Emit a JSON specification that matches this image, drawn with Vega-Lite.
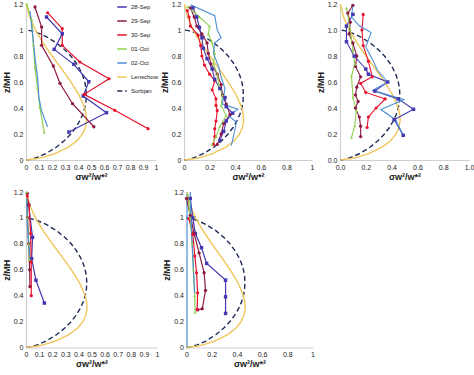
{
"$schema": "https://vega.github.io/schema/vega-lite/v6.json",
"padding": {"left": 2, "top": 0, "right": 0, "bottom": 0},
"background": "white",
"config": {
  "view": {"stroke": null},
  "font": "Liberation Sans",
  "axis": {"grid": false, "ticks": false, "labelOverlap": false, "labelFlush": false, "domainColor": "#cfcfcf", "domainWidth": 1.2, "labelFontSize": 7, "labelColor": "#222", "titleFontSize": 9, "titleFontWeight": "bold", "titleColor": "#222", "labelPadding": 3, "titlePadding": 2}
},
"datasets": {
  "curves": [
    {"s":"Sorbjan","x":0,"z":0},{"s":"Sorbjan","x":0.034,"z":0.005},{"s":"Sorbjan","x":0.085,"z":0.02},{"s":"Sorbjan","x":0.154,"z":0.05},{"s":"Sorbjan","x":0.235,"z":0.1},{"s":"Sorbjan","x":0.296,"z":0.15},{"s":"Sorbjan","x":0.345,"z":0.2},{"s":"Sorbjan","x":0.383,"z":0.25},{"s":"Sorbjan","x":0.413,"z":0.3},{"s":"Sorbjan","x":0.436,"z":0.35},{"s":"Sorbjan","x":0.452,"z":0.4},{"s":"Sorbjan","x":0.461,"z":0.45},{"s":"Sorbjan","x":0.464,"z":0.5},{"s":"Sorbjan","x":0.461,"z":0.55},{"s":"Sorbjan","x":0.452,"z":0.6},{"s":"Sorbjan","x":0.436,"z":0.65},{"s":"Sorbjan","x":0.413,"z":0.7},{"s":"Sorbjan","x":0.383,"z":0.75},{"s":"Sorbjan","x":0.345,"z":0.8},{"s":"Sorbjan","x":0.296,"z":0.85},{"s":"Sorbjan","x":0.235,"z":0.9},{"s":"Sorbjan","x":0.154,"z":0.95},{"s":"Sorbjan","x":0.085,"z":0.98},{"s":"Sorbjan","x":0.034,"z":0.995},{"s":"Sorbjan","x":0,"z":1.0},
    {"s":"Lenschow","x":0,"z":0},{"s":"Lenschow","x":0.082,"z":0.01},{"s":"Lenschow","x":0.129,"z":0.02},{"s":"Lenschow","x":0.225,"z":0.05},{"s":"Lenschow","x":0.328,"z":0.1},{"s":"Lenschow","x":0.394,"z":0.15},{"s":"Lenschow","x":0.434,"z":0.2},{"s":"Lenschow","x":0.457,"z":0.25},{"s":"Lenschow","x":0.466,"z":0.3},{"s":"Lenschow","x":0.463,"z":0.35},{"s":"Lenschow","x":0.452,"z":0.4},{"s":"Lenschow","x":0.408,"z":0.5},{"s":"Lenschow","x":0.346,"z":0.6},{"s":"Lenschow","x":0.275,"z":0.7},{"s":"Lenschow","x":0.201,"z":0.8},{"s":"Lenschow","x":0.132,"z":0.9},{"s":"Lenschow","x":0.072,"z":1.0},{"s":"Lenschow","x":0.028,"z":1.1},{"s":"Lenschow","x":0.003,"z":1.2}
  ],
  "obs": [
    {"p":"a","s":"28-Sep","x":0.158,"z":1.1},{"p":"a","s":"28-Sep","x":0.279,"z":0.971},{"p":"a","s":"28-Sep","x":0.217,"z":0.851},{"p":"a","s":"28-Sep","x":0.368,"z":0.736},{"p":"a","s":"28-Sep","x":0.483,"z":0.602},{"p":"a","s":"28-Sep","x":0.44,"z":0.492},{"p":"a","s":"28-Sep","x":0.619,"z":0.364},{"p":"a","s":"28-Sep","x":0.33,"z":0.215},
    {"p":"a","s":"29-Sep","x":0.069,"z":1.177},{"p":"a","s":"29-Sep","x":0.12,"z":1.023},{"p":"a","s":"29-Sep","x":0.12,"z":0.882},{"p":"a","s":"29-Sep","x":0.21,"z":0.723},{"p":"a","s":"29-Sep","x":0.261,"z":0.59},{"p":"a","s":"29-Sep","x":0.358,"z":0.433},{"p":"a","s":"29-Sep","x":0.522,"z":0.256},
    {"p":"a","s":"30-Sep","x":0.166,"z":1.133},{"p":"a","s":"30-Sep","x":0.279,"z":1.01},{"p":"a","s":"30-Sep","x":0.279,"z":0.882},{"p":"a","s":"30-Sep","x":0.414,"z":0.754},{"p":"a","s":"30-Sep","x":0.639,"z":0.625},{"p":"a","s":"30-Sep","x":0.447,"z":0.505},{"p":"a","s":"30-Sep","x":0.683,"z":0.382},{"p":"a","s":"30-Sep","x":0.939,"z":0.241},
    {"p":"a","s":"01-Oct","x":0.005,"z":1.2},{"p":"a","s":"01-Oct","x":0.043,"z":1.08},{"p":"a","s":"01-Oct","x":0.056,"z":0.888},{"p":"a","s":"01-Oct","x":0.069,"z":0.71},{"p":"a","s":"01-Oct","x":0.089,"z":0.557},{"p":"a","s":"01-Oct","x":0.107,"z":0.404},{"p":"a","s":"01-Oct","x":0.14,"z":0.212},
    {"p":"a","s":"02-Oct","x":0.031,"z":1.144},{"p":"a","s":"02-Oct","x":0.051,"z":0.965},{"p":"a","s":"02-Oct","x":0.069,"z":0.786},{"p":"a","s":"02-Oct","x":0.089,"z":0.633},{"p":"a","s":"02-Oct","x":0.099,"z":0.48},{"p":"a","s":"02-Oct","x":0.12,"z":0.378},{"p":"a","s":"02-Oct","x":0.166,"z":0.255},

    {"p":"b","s":"30-Sep","x":0.026,"z":1.15},{"p":"b","s":"30-Sep","x":0.04,"z":1.1},{"p":"b","s":"30-Sep","x":0.05,"z":1.03},{"p":"b","s":"30-Sep","x":0.11,"z":0.96},{"p":"b","s":"30-Sep","x":0.13,"z":0.88},{"p":"b","s":"30-Sep","x":0.14,"z":0.8},{"p":"b","s":"30-Sep","x":0.16,"z":0.73},{"p":"b","s":"30-Sep","x":0.2,"z":0.66},{"p":"b","s":"30-Sep","x":0.24,"z":0.61},{"p":"b","s":"30-Sep","x":0.22,"z":0.54},{"p":"b","s":"30-Sep","x":0.25,"z":0.47},{"p":"b","s":"30-Sep","x":0.25,"z":0.42},{"p":"b","s":"30-Sep","x":0.26,"z":0.38},{"p":"b","s":"30-Sep","x":0.25,"z":0.3},{"p":"b","s":"30-Sep","x":0.24,"z":0.24},{"p":"b","s":"30-Sep","x":0.24,"z":0.18},{"p":"b","s":"30-Sep","x":0.23,"z":0.12},
    {"p":"b","s":"29-Sep","x":0.05,"z":1.17},{"p":"b","s":"29-Sep","x":0.08,"z":1.1},{"p":"b","s":"29-Sep","x":0.1,"z":1.03},{"p":"b","s":"29-Sep","x":0.14,"z":0.97},{"p":"b","s":"29-Sep","x":0.18,"z":0.9},{"p":"b","s":"29-Sep","x":0.19,"z":0.82},{"p":"b","s":"29-Sep","x":0.21,"z":0.74},{"p":"b","s":"29-Sep","x":0.26,"z":0.66},{"p":"b","s":"29-Sep","x":0.29,"z":0.58},{"p":"b","s":"29-Sep","x":0.3,"z":0.5},{"p":"b","s":"29-Sep","x":0.33,"z":0.43},{"p":"b","s":"29-Sep","x":0.36,"z":0.35},{"p":"b","s":"29-Sep","x":0.31,"z":0.28},{"p":"b","s":"29-Sep","x":0.29,"z":0.2},{"p":"b","s":"29-Sep","x":0.26,"z":0.12},
    {"p":"b","s":"28-Sep","x":0.07,"z":1.17},{"p":"b","s":"28-Sep","x":0.1,"z":1.1},{"p":"b","s":"28-Sep","x":0.12,"z":1.02},{"p":"b","s":"28-Sep","x":0.14,"z":0.94},{"p":"b","s":"28-Sep","x":0.15,"z":0.86},{"p":"b","s":"28-Sep","x":0.18,"z":0.78},{"p":"b","s":"28-Sep","x":0.22,"z":0.7},{"p":"b","s":"28-Sep","x":0.24,"z":0.62},{"p":"b","s":"28-Sep","x":0.28,"z":0.55},{"p":"b","s":"28-Sep","x":0.32,"z":0.48},{"p":"b","s":"28-Sep","x":0.33,"z":0.41},{"p":"b","s":"28-Sep","x":0.38,"z":0.36},{"p":"b","s":"28-Sep","x":0.33,"z":0.3},{"p":"b","s":"28-Sep","x":0.31,"z":0.22},{"p":"b","s":"28-Sep","x":0.28,"z":0.15},
    {"p":"b","s":"01-Oct","x":0.03,"z":1.18},{"p":"b","s":"01-Oct","x":0.12,"z":1.1},{"p":"b","s":"01-Oct","x":0.2,"z":1.03},{"p":"b","s":"01-Oct","x":0.19,"z":0.97},{"p":"b","s":"01-Oct","x":0.22,"z":0.9},{"p":"b","s":"01-Oct","x":0.24,"z":0.82},{"p":"b","s":"01-Oct","x":0.23,"z":0.74},{"p":"b","s":"01-Oct","x":0.26,"z":0.66},{"p":"b","s":"01-Oct","x":0.27,"z":0.58},{"p":"b","s":"01-Oct","x":0.3,"z":0.5},{"p":"b","s":"01-Oct","x":0.29,"z":0.42},{"p":"b","s":"01-Oct","x":0.33,"z":0.34},{"p":"b","s":"01-Oct","x":0.28,"z":0.26},{"p":"b","s":"01-Oct","x":0.25,"z":0.18},{"p":"b","s":"01-Oct","x":0.22,"z":0.12},
    {"p":"b","s":"02-Oct","x":0.05,"z":1.195},{"p":"b","s":"02-Oct","x":0.24,"z":1.11},{"p":"b","s":"02-Oct","x":0.26,"z":1.0},{"p":"b","s":"02-Oct","x":0.29,"z":0.94},{"p":"b","s":"02-Oct","x":0.24,"z":0.9},{"p":"b","s":"02-Oct","x":0.23,"z":0.82},{"p":"b","s":"02-Oct","x":0.27,"z":0.72},{"p":"b","s":"02-Oct","x":0.29,"z":0.64},{"p":"b","s":"02-Oct","x":0.32,"z":0.55},{"p":"b","s":"02-Oct","x":0.3,"z":0.43},{"p":"b","s":"02-Oct","x":0.42,"z":0.39},{"p":"b","s":"02-Oct","x":0.35,"z":0.34},{"p":"b","s":"02-Oct","x":0.41,"z":0.29},{"p":"b","s":"02-Oct","x":0.39,"z":0.2},{"p":"b","s":"02-Oct","x":0.37,"z":0.11},

    {"p":"c","s":"30-Sep","x":0.18,"z":1.12},{"p":"c","s":"30-Sep","x":0.17,"z":1.0},{"p":"c","s":"30-Sep","x":0.18,"z":0.88},{"p":"c","s":"30-Sep","x":0.22,"z":0.76},{"p":"c","s":"30-Sep","x":0.25,"z":0.64},{"p":"c","s":"30-Sep","x":0.16,"z":0.59},{"p":"c","s":"30-Sep","x":0.2,"z":0.52},{"p":"c","s":"30-Sep","x":0.35,"z":0.47},{"p":"c","s":"30-Sep","x":0.28,"z":0.4},{"p":"c","s":"30-Sep","x":0.22,"z":0.33},{"p":"c","s":"30-Sep","x":0.21,"z":0.25},
    {"p":"c","s":"29-Sep","x":0.1,"z":1.19},{"p":"c","s":"29-Sep","x":0.06,"z":1.13},{"p":"c","s":"29-Sep","x":0.08,"z":1.06},{"p":"c","s":"29-Sep","x":0.07,"z":0.97},{"p":"c","s":"29-Sep","x":0.1,"z":0.9},{"p":"c","s":"29-Sep","x":0.13,"z":0.8},{"p":"c","s":"29-Sep","x":0.12,"z":0.72},{"p":"c","s":"29-Sep","x":0.16,"z":0.64},{"p":"c","s":"29-Sep","x":0.13,"z":0.56},{"p":"c","s":"29-Sep","x":0.12,"z":0.5},{"p":"c","s":"29-Sep","x":0.14,"z":0.45},{"p":"c","s":"29-Sep","x":0.12,"z":0.4},{"p":"c","s":"29-Sep","x":0.15,"z":0.33},{"p":"c","s":"29-Sep","x":0.16,"z":0.26},{"p":"c","s":"29-Sep","x":0.16,"z":0.18},
    {"p":"c","s":"28-Sep","x":0.1,"z":1.12},{"p":"c","s":"28-Sep","x":0.05,"z":1.03},{"p":"c","s":"28-Sep","x":0.05,"z":0.91},{"p":"c","s":"28-Sep","x":0.11,"z":0.8},{"p":"c","s":"28-Sep","x":0.2,"z":0.7},{"p":"c","s":"28-Sep","x":0.22,"z":0.66},{"p":"c","s":"28-Sep","x":0.37,"z":0.6},{"p":"c","s":"28-Sep","x":0.27,"z":0.53},{"p":"c","s":"28-Sep","x":0.45,"z":0.47},{"p":"c","s":"28-Sep","x":0.57,"z":0.39},{"p":"c","s":"28-Sep","x":0.42,"z":0.31},{"p":"c","s":"28-Sep","x":0.49,"z":0.19},
    {"p":"c","s":"01-Oct","x":0.05,"z":1.17},{"p":"c","s":"01-Oct","x":0.08,"z":1.0},{"p":"c","s":"01-Oct","x":0.1,"z":0.85},{"p":"c","s":"01-Oct","x":0.114,"z":0.735},{"p":"c","s":"01-Oct","x":0.089,"z":0.646},{"p":"c","s":"01-Oct","x":0.101,"z":0.48},{"p":"c","s":"01-Oct","x":0.127,"z":0.378},{"p":"c","s":"01-Oct","x":0.114,"z":0.263},{"p":"c","s":"01-Oct","x":0.089,"z":0.174},
    {"p":"c","s":"02-Oct","x":0.1,"z":1.19},{"p":"c","s":"02-Oct","x":0.089,"z":1.1},{"p":"c","s":"02-Oct","x":0.152,"z":1.03},{"p":"c","s":"02-Oct","x":0.241,"z":0.98},{"p":"c","s":"02-Oct","x":0.2,"z":0.87},{"p":"c","s":"02-Oct","x":0.254,"z":0.77},{"p":"c","s":"02-Oct","x":0.29,"z":0.69},{"p":"c","s":"02-Oct","x":0.37,"z":0.6},{"p":"c","s":"02-Oct","x":0.254,"z":0.536},{"p":"c","s":"02-Oct","x":0.495,"z":0.465},{"p":"c","s":"02-Oct","x":0.317,"z":0.388},{"p":"c","s":"02-Oct","x":0.43,"z":0.31},{"p":"c","s":"02-Oct","x":0.495,"z":0.184},

    {"p":"d","s":"28-Sep","x":0.02,"z":1.1},{"p":"d","s":"28-Sep","x":0.05,"z":0.85},{"p":"d","s":"28-Sep","x":0.043,"z":0.686},{"p":"d","s":"28-Sep","x":0.076,"z":0.519},{"p":"d","s":"28-Sep","x":0.14,"z":0.343},
    {"p":"d","s":"29-Sep","x":0.01,"z":1.19},{"p":"d","s":"29-Sep","x":0.012,"z":1.0},{"p":"d","s":"29-Sep","x":0.02,"z":0.8},{"p":"d","s":"29-Sep","x":0.028,"z":0.6},{"p":"d","s":"29-Sep","x":0.03,"z":0.47},
    {"p":"d","s":"30-Sep","x":0.01,"z":1.17},{"p":"d","s":"30-Sep","x":0.023,"z":1.1},{"p":"d","s":"30-Sep","x":0.035,"z":0.88},{"p":"d","s":"30-Sep","x":0.04,"z":0.66},{"p":"d","s":"30-Sep","x":0.04,"z":0.4},
    {"p":"d","s":"01-Oct","x":0.005,"z":1.2},{"p":"d","s":"01-Oct","x":0.01,"z":1.0},{"p":"d","s":"01-Oct","x":0.02,"z":0.8},{"p":"d","s":"01-Oct","x":0.025,"z":0.68},
    {"p":"d","s":"02-Oct","x":0.005,"z":1.15},{"p":"d","s":"02-Oct","x":0.01,"z":0.95},{"p":"d","s":"02-Oct","x":0.02,"z":0.8},{"p":"d","s":"02-Oct","x":0.03,"z":0.7},

    {"p":"e","s":"28-Sep","x":0.03,"z":1.15},{"p":"e","s":"28-Sep","x":0.05,"z":1.0},{"p":"e","s":"28-Sep","x":0.07,"z":0.88},{"p":"e","s":"28-Sep","x":0.119,"z":0.77},{"p":"e","s":"28-Sep","x":0.16,"z":0.649},{"p":"e","s":"28-Sep","x":0.31,"z":0.52},{"p":"e","s":"28-Sep","x":0.31,"z":0.391},{"p":"e","s":"28-Sep","x":0.31,"z":0.263},
    {"p":"e","s":"29-Sep","x":0.0,"z":1.15},{"p":"e","s":"29-Sep","x":0.03,"z":1.02},{"p":"e","s":"29-Sep","x":0.06,"z":0.88},{"p":"e","s":"29-Sep","x":0.1,"z":0.73},{"p":"e","s":"29-Sep","x":0.14,"z":0.577},{"p":"e","s":"29-Sep","x":0.151,"z":0.44},{"p":"e","s":"29-Sep","x":0.125,"z":0.299},{"p":"e","s":"29-Sep","x":0.088,"z":0.29},
    {"p":"e","s":"30-Sep","x":0.019,"z":0.994},{"p":"e","s":"30-Sep","x":0.05,"z":0.873},{"p":"e","s":"30-Sep","x":0.066,"z":0.706},{"p":"e","s":"30-Sep","x":0.08,"z":0.577},{"p":"e","s":"30-Sep","x":0.088,"z":0.422},{"p":"e","s":"30-Sep","x":0.085,"z":0.294},
    {"p":"e","s":"01-Oct","x":0.01,"z":1.18},{"p":"e","s":"01-Oct","x":0.03,"z":1.0},{"p":"e","s":"01-Oct","x":0.045,"z":0.8},{"p":"e","s":"01-Oct","x":0.055,"z":0.6},{"p":"e","s":"01-Oct","x":0.065,"z":0.4},{"p":"e","s":"01-Oct","x":0.068,"z":0.27},
    {"p":"e","s":"02-Oct","x":0.03,"z":1.2},{"p":"e","s":"02-Oct","x":0.035,"z":1.0},{"p":"e","s":"02-Oct","x":0.045,"z":0.8},{"p":"e","s":"02-Oct","x":0.055,"z":0.6},{"p":"e","s":"02-Oct","x":0.065,"z":0.42}
  ]
},
"spacing": 7,
"vconcat": [
 {"hconcat": [
  {"width": 130, "height": 156,
   "encoding": {
     "x": {"field": "x", "type": "quantitative", "scale": {"domain": [0, 1], "nice": false}, "axis": {"values": [0,0.1,0.2,0.3,0.4,0.5,0.6,0.7,0.8,0.9,1], "format": "~g", "labelOverlap": false, "labelFlush": false, "title": "σw²/w*²"}},
     "y": {"field": "z", "type": "quantitative", "scale": {"domain": [0, 1.2], "nice": false}, "axis": {"values": [0,0.2,0.4,0.6,0.8,1,1.2], "format": "~g", "labelOverlap": false, "title": "z/MH"}}
   },
   "layer": [
    {"data": {"name": "curves"}, "mark": {"type": "line", "strokeWidth": 1.4},
     "encoding": {
      "order": {"field": "z"},
      "color": {"field": "s", "type": "nominal", "scale": {"domain": ["28-Sep","29-Sep","30-Sep","01-Oct","02-Oct","Lenschow","Sorbjan"], "range": ["#4338b0","#8e1b45","#e8112d","#92d050","#4a8fd4","#f0c65a","#1f2b58"]},
        "legend": {"orient": "none", "legendX": 90, "legendY": -3, "title": null, "symbolType": "stroke", "symbolSize": 90, "symbolStrokeWidth": 1.6, "labelFontSize": 6, "labelColor": "#222", "rowPadding": 4, "labelOffset": 3}},
      "strokeDash": {"field": "s", "type": "nominal", "scale": {"domain": ["28-Sep","29-Sep","30-Sep","01-Oct","02-Oct","Lenschow","Sorbjan"], "range": [[1,0],[1,0],[1,0],[1,0],[1,0],[1,0],[5,3]]},
        "legend": {"orient": "none", "legendX": 90, "legendY": -3, "title": null, "symbolType": "stroke", "symbolSize": 90, "symbolStrokeWidth": 1.6, "labelFontSize": 6, "labelColor": "#222", "rowPadding": 4, "labelOffset": 3}}
     }},
    {"data": {"name": "obs"}, "transform": [{"filter": "datum.p == 'a'"}], "mark": {"type": "line", "strokeWidth": 1.2},
     "encoding": {"order": {"field": "z"}, "color": {"field": "s", "type": "nominal", "legend": null}}},
    {"data": {"name": "obs"}, "transform": [{"filter": "datum.p == 'a' && datum.s != '02-Oct'"}], "mark": {"type": "point", "filled": true, "opacity": 1},
     "encoding": {"color": {"field": "s", "type": "nominal", "legend": null},
      "shape": {"field": "s", "type": "nominal", "scale": {"domain": ["28-Sep","29-Sep","30-Sep","01-Oct"], "range": ["square","circle","circle","triangle-up"]}, "legend": null},
      "size": {"field": "s", "type": "nominal", "scale": {"domain": ["28-Sep","29-Sep","30-Sep","01-Oct"], "range": [12,9,22,6]}, "legend": null}}},
    {"data": {"values": [{"t": "a"}]}, "mark": {"type": "text", "fontSize": 24, "fontWeight": "bold", "color": "#111", "align": "center", "baseline": "middle"},
     "encoding": {"x": {"datum": 0.93}, "y": {"datum": 0.08}, "text": {"field": "t"}}}
   ]},
  {"width": 128, "height": 156,
   "encoding": {
     "x": {"field": "x", "type": "quantitative", "scale": {"domain": [0, 1], "nice": false}, "axis": {"values": [0,0.2,0.4,0.6,0.8,1], "format": "~g", "labelOverlap": false, "labelFlush": false, "title": "σw²/w*²"}},
     "y": {"field": "z", "type": "quantitative", "scale": {"domain": [0, 1.2], "nice": false}, "axis": {"values": [0,0.2,0.4,0.6,0.8,1,1.2], "format": "~g", "labelOverlap": false, "title": "z/MH"}}
   },
   "layer": [
    {"data": {"name": "curves"}, "mark": {"type": "line", "strokeWidth": 1.4},
     "encoding": {"order": {"field": "z"}, "color": {"field": "s", "type": "nominal", "legend": null}, "strokeDash": {"field": "s", "type": "nominal", "legend": null}}},
    {"data": {"name": "obs"}, "transform": [{"filter": "datum.p == 'b'"}], "mark": {"type": "line", "strokeWidth": 1.1},
     "encoding": {"order": {"field": "z"}, "color": {"field": "s", "type": "nominal", "legend": null}}},
    {"data": {"name": "obs"}, "transform": [{"filter": "datum.p == 'b' && datum.s != '02-Oct'"}], "mark": {"type": "point", "filled": true, "opacity": 1},
     "encoding": {"color": {"field": "s", "type": "nominal", "legend": null}, "shape": {"field": "s", "type": "nominal", "legend": null}, "size": {"field": "s", "type": "nominal", "legend": null}}},
    {"data": {"values": [{"t": "b"}]}, "mark": {"type": "text", "fontSize": 24, "fontWeight": "bold", "color": "#111", "align": "center", "baseline": "middle"},
     "encoding": {"x": {"datum": 0.97}, "y": {"datum": 0.08}, "text": {"field": "t"}}}
   ]},
  {"width": 129, "height": 156,
   "encoding": {
     "x": {"field": "x", "type": "quantitative", "scale": {"domain": [0, 1], "nice": false}, "axis": {"values": [0,0.2,0.4,0.6,0.8,1], "format": ".1f", "labelOverlap": false, "labelFlush": false, "title": "σw²/w*²"}},
     "y": {"field": "z", "type": "quantitative", "scale": {"domain": [0, 1.2], "nice": false}, "axis": {"values": [0,0.2,0.4,0.6,0.8,1,1.2], "format": ".1f", "labelOverlap": false, "title": "z/MH"}}
   },
   "layer": [
    {"data": {"name": "curves"}, "mark": {"type": "line", "strokeWidth": 1.4},
     "encoding": {"order": {"field": "z"}, "color": {"field": "s", "type": "nominal", "legend": null}, "strokeDash": {"field": "s", "type": "nominal", "legend": null}}},
    {"data": {"name": "obs"}, "transform": [{"filter": "datum.p == 'c'"}], "mark": {"type": "line", "strokeWidth": 1.1},
     "encoding": {"order": {"field": "z"}, "color": {"field": "s", "type": "nominal", "legend": null}}},
    {"data": {"name": "obs"}, "transform": [{"filter": "datum.p == 'c' && datum.s != '02-Oct'"}], "mark": {"type": "point", "filled": true, "opacity": 1},
     "encoding": {"color": {"field": "s", "type": "nominal", "legend": null}, "shape": {"field": "s", "type": "nominal", "legend": null}, "size": {"field": "s", "type": "nominal", "legend": null}}},
    {"data": {"values": [{"t": "c"}]}, "mark": {"type": "text", "fontSize": 24, "fontWeight": "bold", "color": "#111", "align": "center", "baseline": "middle"},
     "encoding": {"x": {"datum": 0.91}, "y": {"datum": 0.08}, "text": {"field": "t"}}}
   ]}
 ], "spacing": 28, "bounds": "flush"},
 {"hconcat": [
  {"width": 131, "height": 155.5,
   "encoding": {
     "x": {"field": "x", "type": "quantitative", "scale": {"domain": [0, 1], "nice": false}, "axis": {"values": [0,0.1,0.2,0.3,0.4,0.5,0.6,0.7,0.8,0.9,1], "format": "~g", "labelOverlap": false, "labelFlush": false, "title": "σw²/w*²"}},
     "y": {"field": "z", "type": "quantitative", "scale": {"domain": [0, 1.2], "nice": false}, "axis": {"values": [0,0.2,0.4,0.6,0.8,1,1.2], "format": "~g", "labelOverlap": false, "title": "z/MH"}}
   },
   "layer": [
    {"data": {"name": "curves"}, "mark": {"type": "line", "strokeWidth": 1.4},
     "encoding": {"order": {"field": "z"}, "color": {"field": "s", "type": "nominal", "legend": null}, "strokeDash": {"field": "s", "type": "nominal", "legend": null}}},
    {"data": {"name": "obs"}, "transform": [{"filter": "datum.p == 'd'"}], "mark": {"type": "line", "strokeWidth": 1.2},
     "encoding": {"order": {"field": "z"}, "color": {"field": "s", "type": "nominal", "legend": null}}},
    {"data": {"name": "obs"}, "transform": [{"filter": "datum.p == 'd' && datum.s != '02-Oct'"}], "mark": {"type": "point", "filled": true, "opacity": 1},
     "encoding": {"color": {"field": "s", "type": "nominal", "legend": null}, "shape": {"field": "s", "type": "nominal", "legend": null}, "size": {"field": "s", "type": "nominal", "legend": null}}},
    {"data": {"values": [{"t": "d"}]}, "mark": {"type": "text", "fontSize": 24, "fontWeight": "bold", "color": "#111", "align": "center", "baseline": "middle"},
     "encoding": {"x": {"datum": 0.96}, "y": {"datum": 0.08}, "text": {"field": "t"}}}
   ]},
  {"width": 126, "height": 155.5,
   "encoding": {
     "x": {"field": "x", "type": "quantitative", "scale": {"domain": [0, 1], "nice": false}, "axis": {"values": [0,0.2,0.4,0.6,0.8,1], "format": "~g", "labelOverlap": false, "labelFlush": false, "title": "σw²/w*²"}},
     "y": {"field": "z", "type": "quantitative", "scale": {"domain": [0, 1.2], "nice": false}, "axis": {"values": [0,0.2,0.4,0.6,0.8,1,1.2], "format": "~g", "labelOverlap": false, "title": "z/MH", "domainColor": "#4a8fd4"}}
   },
   "layer": [
    {"data": {"name": "curves"}, "mark": {"type": "line", "strokeWidth": 1.4},
     "encoding": {"order": {"field": "z"}, "color": {"field": "s", "type": "nominal", "legend": null}, "strokeDash": {"field": "s", "type": "nominal", "legend": null}}},
    {"data": {"name": "obs"}, "transform": [{"filter": "datum.p == 'e'"}], "mark": {"type": "line", "strokeWidth": 1.2},
     "encoding": {"order": {"field": "z"}, "color": {"field": "s", "type": "nominal", "legend": null}}},
    {"data": {"name": "obs"}, "transform": [{"filter": "datum.p == 'e' && datum.s != '02-Oct'"}], "mark": {"type": "point", "filled": true, "opacity": 1},
     "encoding": {"color": {"field": "s", "type": "nominal", "legend": null}, "shape": {"field": "s", "type": "nominal", "legend": null}, "size": {"field": "s", "type": "nominal", "legend": null}}},
    {"data": {"values": [{"t": "e"}]}, "mark": {"type": "text", "fontSize": 24, "fontWeight": "bold", "color": "#111", "align": "center", "baseline": "middle"},
     "encoding": {"x": {"datum": 0.94}, "y": {"datum": 0.08}, "text": {"field": "t"}}}
   ]}
 ], "spacing": 29.5, "bounds": "flush"}
]
}
